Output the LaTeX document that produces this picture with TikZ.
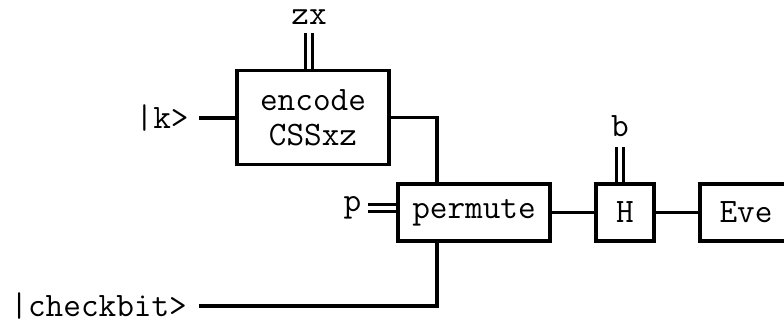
\documentclass[tikz,border=0pt]{standalone}
\usepackage{tikz}

\begin{document}
\begin{tikzpicture}[x=0.02cm, y=-0.02cm, line width=1.8pt, every node/.style={font=\ttfamily\fontsize{19.5}{20}\selectfont},
	blk/.style={draw, rectangle, line width=1.8pt, minimum height=57*0.02cm, inner sep=0pt},
	dbl/.style={double, double distance=2.8pt, line width=1.7pt}]
	\useasboundingbox (0,0) rectangle (784,323);
	\node[blk, minimum width=152*0.02cm, minimum height=94*0.02cm, align=center] (enc) at (313,117.5) {encode\\CSSxz};
	\node[blk, minimum width=152*0.02cm] (perm) at (474,212.5) {permute};
	\node[blk, minimum width=58*0.02cm] (h) at (625,212.5) {H};
	\node[blk, minimum width=92*0.02cm] (eve) at (746,212.5) {Eve};
	\node[anchor=east, inner sep=5pt] (ket) at (199,118) {|k>};
	\node[anchor=east, inner sep=6pt] (chk) at (199,306) {|checkbit>};
	\node[anchor=east, inner sep=3pt] (p) at (368,208) {p};
	\coordinate (zxw) at (309,33);
	\coordinate (bw) at (620,147);
	\coordinate (jn) at (437,0);
	\node[anchor=south, inner sep=4pt] (zx) at (zxw) {zx};
	\node[anchor=south, inner sep=5pt] (b) at (bw) {b};
	% wires
	\draw (ket.east) -- (enc.west |- ket.east);
	\draw (enc.east) -| (jn |- perm.north);
	\draw (chk.east) -| (jn |- perm.south);
	\draw (perm) -- (h);
	\draw (h) -- (eve);
	% classical inputs
	\draw[dbl] (zxw) -- (zxw |- enc.north);
	\draw[dbl] (bw) -- (bw |- h.north);
	\draw[dbl] (p.east) -- (p.east -| perm.west);
\end{tikzpicture}
\end{document}
